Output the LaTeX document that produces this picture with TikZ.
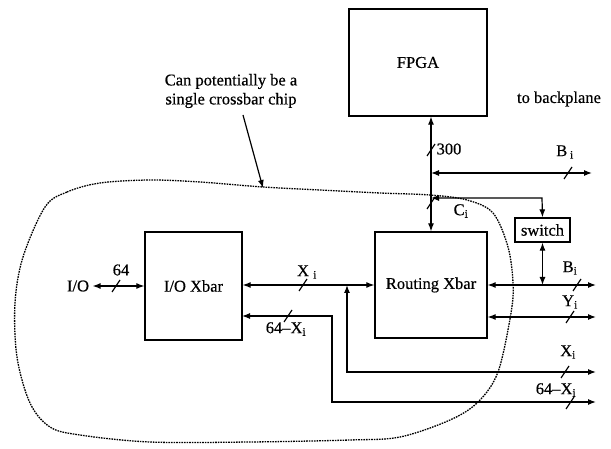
\documentclass[tikz,border=0pt]{standalone}
\usepackage{fontspec}
\setmainfont[FakeBold=0.4]{Liberation Serif}
\usetikzlibrary{arrows.meta}
\begin{document}
\begin{tikzpicture}[x=1pt,y=-1pt,line width=1.2pt,
  >={Latex[length=8pt,width=6pt]},
  box/.style={draw,line width=1.3pt,inner sep=0pt,font=\fontsize{16.5}{18}\selectfont},
  lbl/.style={font=\fontsize{16.5}{19}\selectfont,inner sep=0pt},
  blob/.style={line width=1.3pt,dash pattern=on 1.6pt off 1pt},
  slashmark/.pic={\draw[line width=1.2pt] (-4,6) -- (4,-6);}]
\fill[white] (0,0) rectangle (611,449);
\useasboundingbox (0,0) rectangle (611,449);

% boxes
\node[box,minimum width=138pt,minimum height=107pt] (fpga) at (418,62.5) {FPGA};
\node[box,minimum width=112pt,minimum height=106pt] (rx) at (431,285) {Routing Xbar};
\node[box,minimum width=97pt,minimum height=108pt] (iox) at (193.5,286) {I/O Xbar};
\node[box,minimum width=55pt,minimum height=24pt] (sw) at (542.5,230) {switch};

% texts
\node[lbl] (tb) at (559,99) {to backplane};
\node[lbl] (bib) at (565,152) {B\,\textsubscript{i}};
\node[lbl] (n300) at (449,149) {300};
\node[lbl] (ci) at (461,211) {C\textsubscript{i}};
\node[lbl] (bi) at (570,268) {B\textsubscript{i}};
\node[lbl] (yi) at (570,302) {Y\textsubscript{i}};
\node[lbl] (xi) at (568,352) {X\textsubscript{i}};
\node[lbl] (sxi) at (556,390) {64--X\textsubscript{i}};
\node[lbl] (xib) at (307,272) {X~\textsubscript{i}};
\node[lbl] (sxib) at (286,329) {64--X\textsubscript{i}};
\node[lbl,inner sep=3pt] (io) at (78,286) {I/O};
\node[lbl] (n64) at (121,270) {64};
\node[lbl,align=center] (note) at (231,91) {Can potentially be a\\single crossbar chip};

% coordinates
\coordinate (bpR) at (592,173);
\coordinate (ciR) at (542,198);
\coordinate (biR) at (596,285);
\coordinate (yiR) at (596,317);
\coordinate (xiC) at (347,372);
\coordinate (xiR) at (596,372);
\coordinate (sxC) at (332,402);
\coordinate (sxR) at (596,402);
\coordinate (sxL) at (242,316);
\coordinate (nstart) at (243,115);
\coordinate (ntip) at (263,188);

% connectors
\draw[<->] (rx.north |- fpga.south) -- (rx.north);
\draw[<->] (rx.north |- bpR) -- (bpR);
\draw[<->] (rx.north |- ciR) -- (ciR) -- (sw.north);
\draw[<->] (sw.south) -- (sw.south |- rx.east);
\draw[<->] (rx.east) -- (biR);
\draw[<->] (rx.east |- yiR) -- (yiR);
\draw[<->] (iox.east |- rx.west) -- (rx.west);
\draw[<->] (xiC |- rx.west) -- (xiC) -- (xiR);
\draw[<->] (sxL) -- (sxC |- sxL) -- (sxC) -- (sxR);
\draw[<->] (io.east) -- (iox.west |- io.east);
\draw[->] (nstart) -- (ntip);

% slashes
\pic at (431,150) {slashmark};
\pic at (431,203) {slashmark};
\pic at (568,173) {slashmark};
\pic at (577,285) {slashmark};
\pic at (570,317) {slashmark};
\pic at (565,372) {slashmark};
\pic at (570,403) {slashmark};
\pic at (303,285) {slashmark};
\pic at (288,316) {slashmark};
\pic at (116,286) {slashmark};

% dotted outline
\draw[blob] plot[smooth cycle,tension=0.55] coordinates {
 (45,207) (67,192) (100,183) (150,180) (200,182) (263,187) (320,190)
 (380,193) (430,195) (467,200) (493,213) (508,247) (513,283) (511,313)
 (498,372) (478,402) (450,420) (400,437) (350,440) (250,442) (150,442)
 (80,435) (50,427) (30,403) (17,357) (15,303) (23,257)};
\end{tikzpicture}
\end{document}
